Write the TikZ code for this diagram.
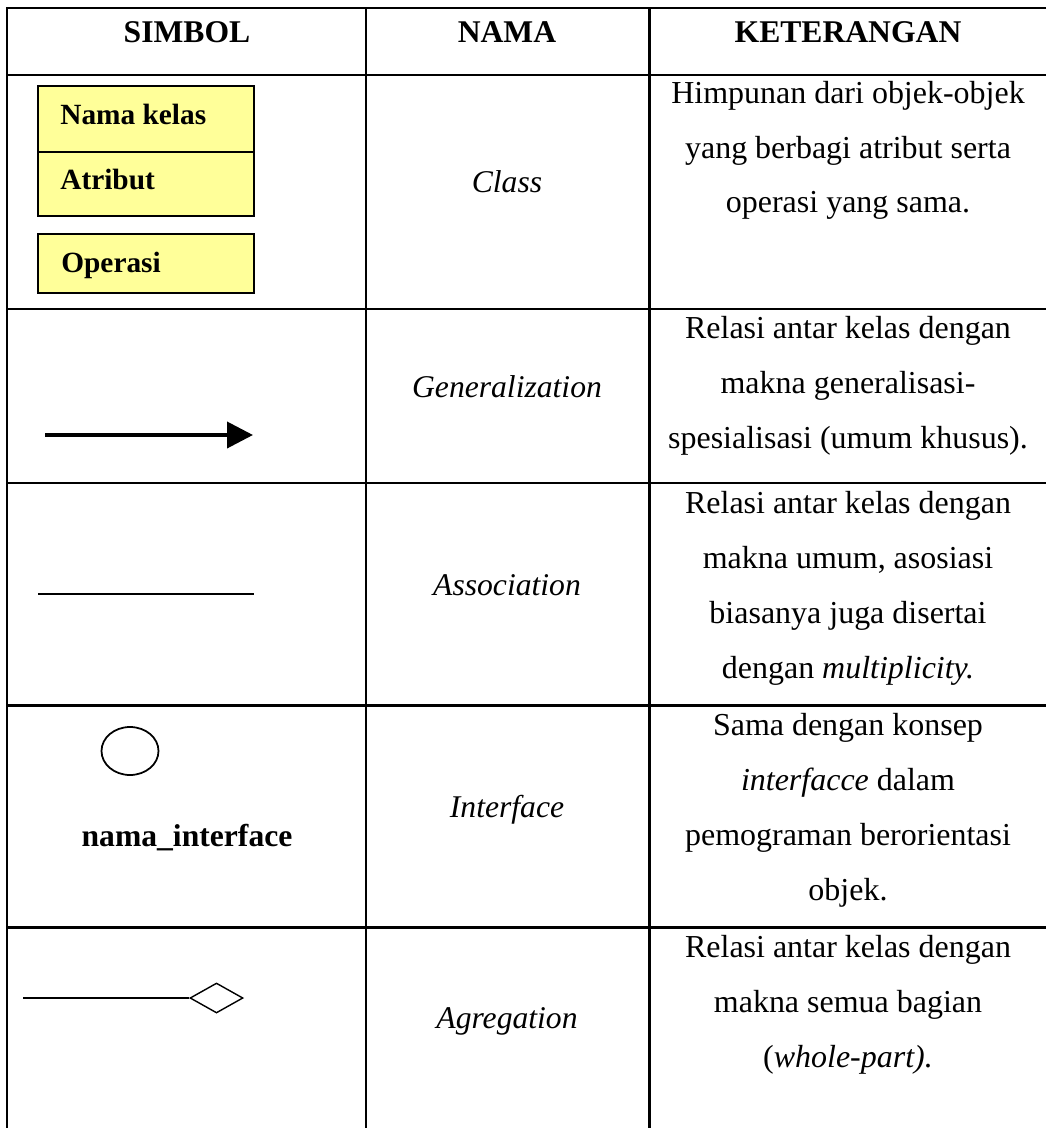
\documentclass[tikz,border=0pt]{standalone}
\usepackage{fontspec}
\setmainfont{Liberation Serif}
\usetikzlibrary{arrows.meta,shapes.geometric}

\definecolor{kelasfill}{RGB}{255,255,153}

\tikzset{
  gridline/.style={line width=1.7pt},
  headtext/.style={font=\fontsize{18}{22}\selectfont\bfseries, anchor=base},
  namatext/.style={font=\fontsize{18}{22}\selectfont\itshape, anchor=base},
  kettext/.style={font=\fontsize{18.2}{31.3}\selectfont, align=center, anchor=base},
  kelasbox/.style={draw, line width=1.3pt, fill=kelasfill},
  kelastext/.style={font=\fontsize{16.7}{20}\selectfont\bfseries, anchor=base west, inner xsep=0pt},
}

\begin{document}
\begin{tikzpicture}[x=0.02cm,y=-0.02cm]
\useasboundingbox (0,0) rectangle (1046,1128);
% table lines
\draw[gridline] (1046,8) -- (7,8) -- (7,1128);
\foreach \y in {75,309,483,705,927}
  \draw[gridline] (7,\y) -- (1046,\y);
\draw[gridline] (366,8) -- (366,1128);
\draw[gridline] (649,8) -- (649,1128);
% header
\node[headtext] (simbol) at (187,43) {SIMBOL};
\node[headtext] (nama) at (507,43) {NAMA};
\node[headtext] (keterangan) at (848,43) {KETERANGAN};
% class symbol
\draw[kelasbox] (38,86) rectangle (254,216);
\draw[line width=1.3pt] (38,152) -- (254,152);
\draw[kelasbox] (38,234) rectangle (254,293);
\node[kelastext] (namakelas) at (60,125) {Nama kelas};
\node[kelastext] (atribut) at (60,190) {Atribut};
\node[kelastext] (operasi) at (61,273) {Operasi};
% generalization
\coordinate (gen-a) at (45,435);
\coordinate (gen-b) at (253,435);
\draw[line width=2.2pt, -{Triangle[length=0.52cm,width=0.52cm]}] (gen-a) -- (gen-b);
% association
\coordinate (asc-a) at (38,594);
\coordinate (asc-b) at (254,594);
\draw[line width=1.1pt] (asc-a) -- (asc-b);
% interface
\node[draw, ellipse, line width=1pt, minimum width=1.14cm, minimum height=0.96cm, inner sep=0pt] (iface) at (130,751) {};
\node[headtext] (ifacename) at (187,846) {nama\_interface};
% aggregation
\coordinate (agg-a) at (23,998);
\node[draw, diamond, line width=0.8pt, minimum width=1.06cm, minimum height=0.6cm, inner sep=0pt] (wadah) at (216.5,998) {};
\draw[line width=1.1pt] (agg-a) -- (wadah.west);
% names
\node[namatext] (nclass) at (507,193) {Class};
\node[namatext] (ngen) at (507,397) {Generalization};
\node[namatext] (nasc) at (507,595) {Association};
\node[namatext] (niface) at (507,817) {Interface};
\node[namatext] (nagg) at (507,1028) {Agregation};
% descriptions (base = last line)
\node[kettext] (kclass) at (848,213) {Himpunan dari objek-objek\\yang berbagi atribut serta\\operasi yang sama.};
\node[kettext] (kgen) at (848,448) {Relasi antar kelas dengan\\makna generalisasi-\\spesialisasi (umum khusus).};
\node[kettext] (kasc) at (848,678) {Relasi antar kelas dengan\\makna umum, asosiasi\\biasanya juga disertai\\dengan \textit{multiplicity.}};
\node[kettext] (kiface) at (848,900) {Sama dengan konsep\\\textit{interfacce} dalam\\pemograman berorientasi\\objek.};
\node[kettext] (kagg) at (848,1067) {Relasi antar kelas dengan\\makna semua bagian\\(\textit{whole-part).}};
\end{tikzpicture}
\end{document}
